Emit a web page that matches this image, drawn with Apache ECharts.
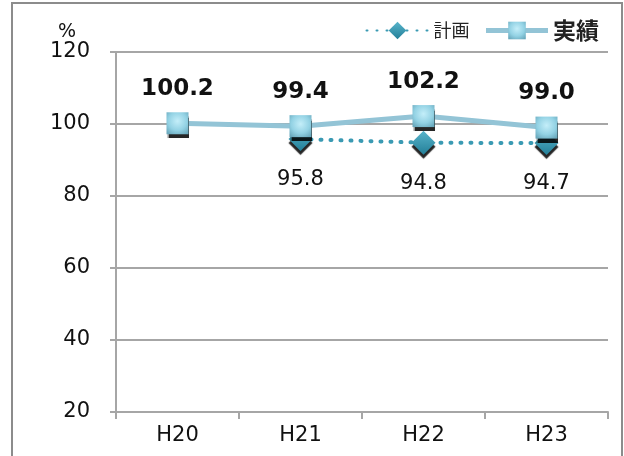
<!DOCTYPE html>
<html>
<head>
<meta charset="utf-8">
<script src="https://cdn.jsdelivr.net/npm/echarts@6/dist/echarts.min.js"></script>
<style>
  html, body { margin: 0; padding: 0; background: #fff; }
  #chart { width: 624px; height: 456px; }
</style>
</head>
<body>
<div id="chart"></div>
<script>
const years = ['H20', 'H21', 'H22', 'H23']
const planValues = [null, 95.8, 94.8, 94.7]
const actualValues = [100.2, 99.4, 102.2, 99.0]
const yTicks = { min: 20, max: 120, interval: 20 }

const font = '"DejaVu Sans", Verdana, sans-serif'
const cjk = '"Noto Sans CJK JP", sans-serif'
const gridColor = '#a6a6a6'

const chart = echarts.init(document.getElementById('chart'))

// square marker: light centre, darker rim
const squareFill = new echarts.graphic.RadialGradient(0.5, 0.4, 0.7, [
  { offset: 0, color: '#c4eef9' },
  { offset: 0.6, color: '#93d2e4' },
  { offset: 1, color: '#6aa9bd' }
])
const diamondFill = new echarts.graphic.LinearGradient(0, 0, 0, 1, [
  { offset: 0, color: '#58b4cb' },
  { offset: 1, color: '#237f98' }
])

chart.setOption({
  animation: false,
  textStyle: { fontFamily: font },
  graphic: [{
    type: 'rect',
    shape: { x: 12, y: 3, width: 610, height: 470 },
    style: { fill: 'none', stroke: '#8c8c8c', lineWidth: 2 },
    silent: true
  }],
  legend: {
    top: 14,
    right: 20,
    itemWidth: 62,
    itemHeight: 22,
    itemGap: 14,
    data: [
      { name: '計画', textStyle: { fontSize: 18, fontFamily: cjk, color: '#222' } },
      { name: '実績', lineStyle: { width: 5 }, textStyle: { fontSize: 23, fontWeight: 'bold', fontFamily: cjk, color: '#222' } }
    ]
  },
  grid: { left: 116, right: 16, top: 52, bottom: 44 },
  xAxis: {
    type: 'category',
    data: years,
    boundaryGap: true,
    axisLine: { lineStyle: { color: gridColor, width: 2 } },
    axisTick: { show: true, length: 7, lineStyle: { color: gridColor, width: 2 } },
    axisLabel: { fontSize: 21, color: '#111', margin: 13, fontFamily: font }
  },
  yAxis: {
    type: 'value',
    min: yTicks.min,
    max: yTicks.max,
    interval: yTicks.interval,
    name: '%',
    nameLocation: 'end',
    nameGap: 10,
    nameTextStyle: { fontSize: 19, color: '#111', fontFamily: font, padding: [0, 0, 0, -98] },
    axisLine: { show: true, lineStyle: { color: gridColor, width: 2 } },
    axisTick: { show: true, length: 6, lineStyle: { color: gridColor, width: 2 } },
    axisLabel: { fontSize: 21, color: '#111', margin: 26, fontFamily: font },
    splitLine: { lineStyle: { color: gridColor, width: 2 } }
  },
  series: [
    {
      name: '計画',
      type: 'line',
      data: planValues,
      symbol: 'diamond',
      symbolSize: 24,
      z: 2,
      lineStyle: { color: '#3a9ab3', width: 4, type: [1, 9], cap: 'round' },
      itemStyle: {
        color: diamondFill,
        borderWidth: 0,
        shadowColor: 'rgba(0,0,0,0.85)',
        shadowOffsetY: 4,
        shadowBlur: 1
      },
      label: {
        show: true,
        position: 'bottom',
        distance: 18,
        fontSize: 21,
        color: '#111',
        fontFamily: font,
        formatter: (p) => p.value.toFixed(1)
      }
    },
    {
      name: '実績',
      type: 'line',
      data: actualValues,
      symbol: 'rect',
      symbolSize: 22,
      z: 3,
      lineStyle: { color: '#93c4d6', width: 5 },
      itemStyle: {
        color: squareFill,
        borderWidth: 0,
        shadowColor: 'rgba(0,0,0,0.85)',
        shadowOffsetY: 4,
        shadowBlur: 1
      },
      label: {
        show: true,
        position: 'top',
        distance: 12,
        fontSize: 23,
        fontWeight: 'bold',
        color: '#111',
        fontFamily: font,
        formatter: (p) => p.value.toFixed(1)
      }
    }
  ]
})
</script>
</body>
</html>
